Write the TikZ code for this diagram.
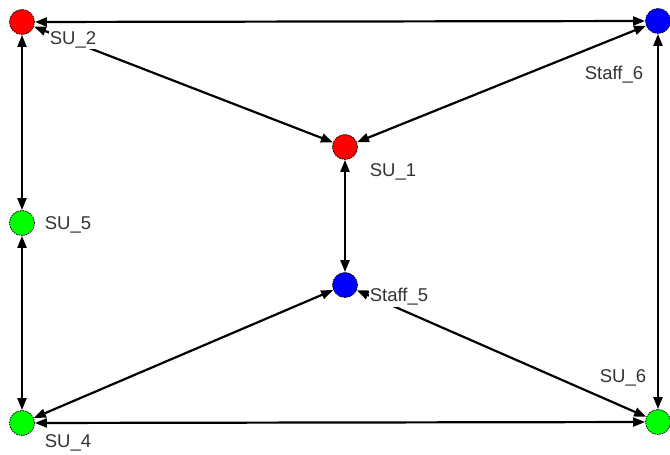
\documentclass[tikz,border=0pt]{standalone}
\usepackage{fontspec}
\setmainfont{Liberation Sans}
\usetikzlibrary{arrows.meta}
\begin{document}
\begin{tikzpicture}[x=1pt,y=-1pt,font=\fontsize{18.5}{20}\selectfont,
  agent/.style={circle,draw,dashed,dash pattern=on 1.5pt off 1pt,line width=0.8pt,minimum size=25pt,inner sep=0pt},
  su/.style={agent,fill=red},
  staff/.style={agent,fill=blue},
  leaf/.style={agent,fill=green},
  lbl/.style={fill=white,inner sep=1pt,text=black!80},
  link/.style={line width=2.2pt,{Triangle[length=12pt,width=9pt]}-{Triangle[length=12pt,width=9pt]}}]
  \useasboundingbox (0,0) rectangle (670,455);
  \node[su] (su2) at (22,22){};
  \node[staff] (staff6) at (658,21){};
  \node[su] (su1) at (345,147){};
  \node[leaf] (su5) at (22,223){};
  \node[staff] (staff5) at (345,285){};
  \node[leaf] (su4) at (22,423){};
  \node[leaf] (su6) at (658,422){};
  % links
  \draw[link] (su2) -- (staff6);
  \draw[link] (su2) -- (su1);
  \draw[link] (staff6) -- (su1);
  \draw[link] (su2) -- (su5);
  \draw[link] (su5) -- (su4);
  \draw[link] (su1) -- (staff5);
  \draw[link] (staff5) -- (su4);
  \draw[link] (staff5) -- (su6);
  \draw[link] (su4) -- (su6);
  \draw[link] (staff6) -- (su6);
  % names
  \node[lbl] (t-su2) at (73,40){SU\_2};
  \node[lbl] (t-staff6) at (614,75){Staff\_6};
  \node[lbl] (t-su1) at (393,172){SU\_1};
  \node[lbl] (t-su5) at (68,225){SU\_5};
  \node[lbl] (t-staff5) at (399,297){Staff\_5};
  \node[lbl] (t-su4) at (68,443){SU\_4};
  \node[lbl] (t-su6) at (623,378){SU\_6};
\end{tikzpicture}
\end{document}
